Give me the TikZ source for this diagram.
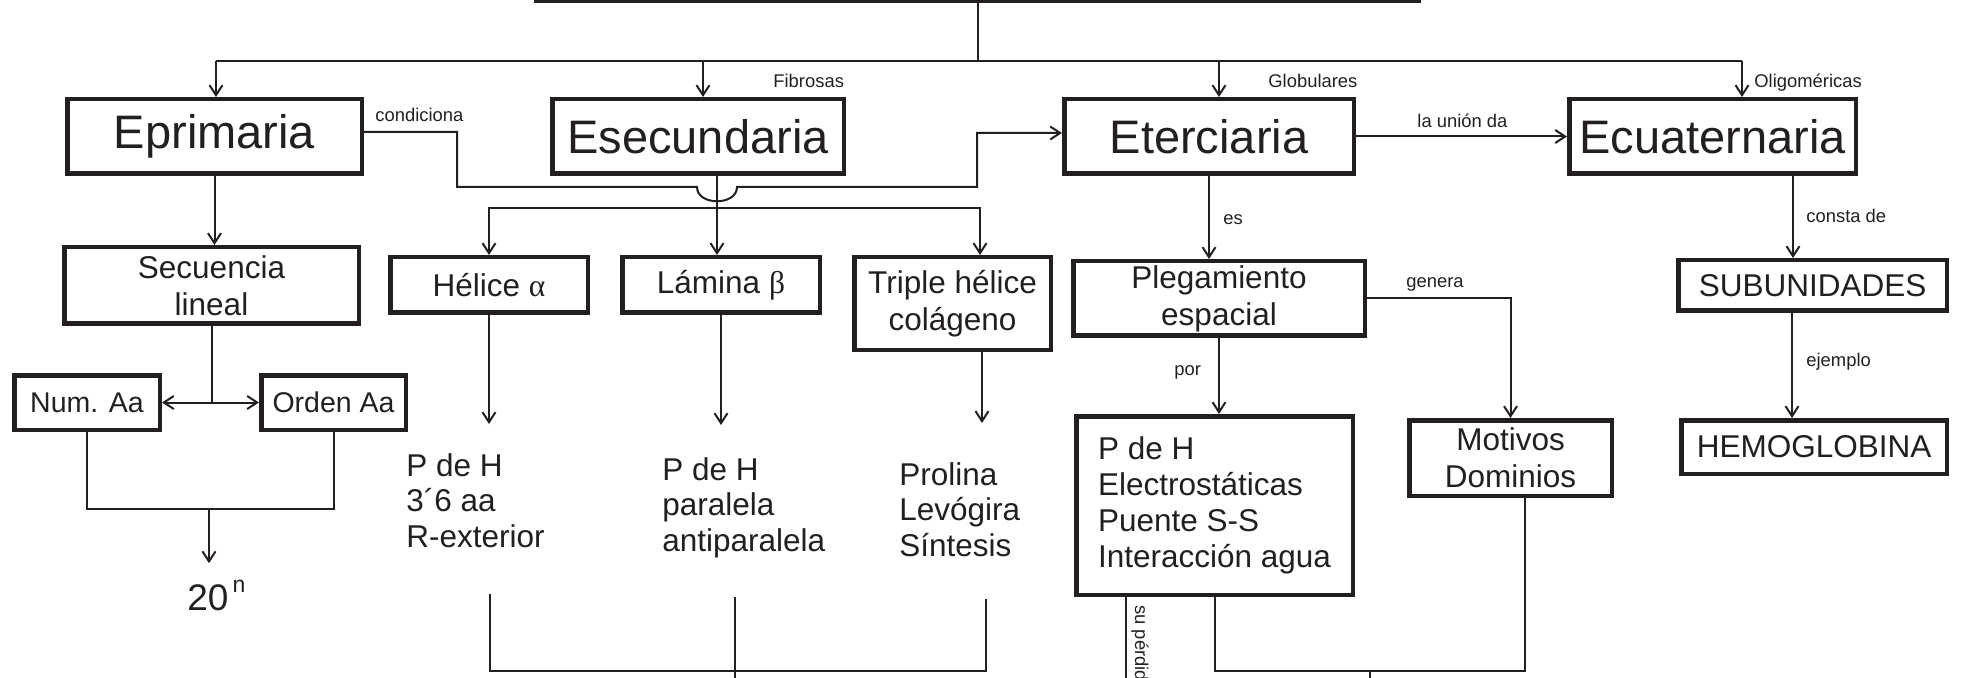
\documentclass[tikz,border=0pt]{standalone}
\usepackage{fontspec}
\setmainfont{Liberation Sans}
\newfontfamily\grk{Liberation Serif}
\usetikzlibrary{arrows.meta}
\definecolor{ink}{RGB}{35,31,32}
\begin{document}
\begin{tikzpicture}[x=0.5pt,y=-0.5pt,
  text=ink,
  box/.style={draw=ink,line width=2.25pt,inner sep=0pt,align=center},
  lvA/.style={box,minimum height=37.25pt,font=\fontsize{23.5}{28}\selectfont},
  lvB/.style={box,font=\fontsize{15.75}{18.5}\selectfont},
  lvC/.style={box,font=\fontsize{14.25}{17}\selectfont},
  freetxt/.style={inner sep=0pt,align=left,anchor=north west,font=\fontsize{15.75}{17.75}\selectfont},
  lbl/.style={inner sep=0pt,anchor=base west,font=\fontsize{9.2}{11}\selectfont},
  conn/.style={draw=ink,line width=1pt},
  arr/.style={conn,-{Straight Barb[length=5pt,width=6.5pt]}}]
\useasboundingbox (0,0) rectangle (1962,678);
\clip (0,0) rectangle (1962,678);

% boxes
\node[box,minimum width=441.25pt,minimum height=60.75pt] (top) at (977.5,-60) {};
\node[lvA,minimum width=147.25pt] (eprim) at (214.5,136.5) {Eprimaria};
\node[lvA,minimum width=145.75pt] (esec) at (698,136.5) {Esecundaria};
\node[lvA,minimum width=144.75pt] (eterc) at (1209,136.5) {Eterciaria};
\node[lvA,minimum width=143.25pt] (ecuat) at (1712.5,136.5) {Ecuaternaria};

\node[lvB,minimum width=147.25pt,minimum height=38.25pt] (sec) at (211.5,285.5) {Secuencia\\lineal};
\node[lvB,minimum width=98.75pt,minimum height=27.75pt] (hel) at (489,285) {Hélice {\grk α}};
\node[lvB,minimum width=98.75pt,minimum height=27.75pt] (lam) at (721,285) {Lámina {\grk β}};
\node[lvB,minimum width=98.25pt,minimum height=46.25pt] (tri) at (952.5,303.5) {Triple hélice\\colágeno};
\node[lvB,minimum width=145.75pt,minimum height=37.25pt] (pleg) at (1219,298.5) {Plegamiento\\espacial};
\node[lvB,minimum width=134.25pt,minimum height=25.25pt] (sub) at (1812.5,285.5) {SUBUNIDADES};
\node[lvB,minimum width=132.75pt,minimum height=26.75pt] (hemo) at (1814,447) {HEMOGLOBINA};
\node[lvC,minimum width=72.75pt,minimum height=27.25pt] (num) at (87,402.5) {Num. Aa};
\node[lvC,minimum width=72.25pt,minimum height=27.25pt] (orden) at (333.5,402.5) {Orden Aa};
\node[lvB,align=left,minimum width=138.25pt,minimum height=89.25pt,font=\fontsize{15.75}{18}\selectfont] (fuerzas) at (1214.5,505.5) {P de H\\Electrostáticas\\Puente S-S\\Interacción agua};
\node[lvB,minimum width=101.25pt,minimum height=37.75pt] (mot) at (1510.5,458) {Motivos\\Dominios};

% free texts
\node[freetxt] (helt) at (406,453) {P de H\\3´6 aa\\R-exterior};
\node[freetxt] (lamt) at (662,457) {P de H\\paralela\\antiparalela};
\node[freetxt] (trit) at (899,462) {Prolina\\Levógira\\Síntesis};
\node[inner sep=0pt,anchor=base west,font=\fontsize{18.5}{22}\selectfont] (pow) at (187,610) {20\kern2pt\raisebox{9pt}{\fontsize{11.5}{13}\selectfont n}};

% labels
\node[lbl] (lcond) at (375,121.5) {condiciona};
\node[lbl] (lfib) at (773,88) {Fibrosas};
\node[lbl] (lglob) at (1268,88) {Globulares};
\node[lbl] (loli) at (1754,88) {Oligoméricas};
\node[lbl] (luni) at (1417,128) {la unión da};
\node[lbl] (les) at (1223,225) {es};
\node[lbl] (lcons) at (1806,223) {consta de};
\node[lbl] (lpor) at (1174,375) {por};
\node[lbl] (lgen) at (1406,288) {genera};
\node[lbl] (lej) at (1806,366) {ejemplo};
\node[lbl,rotate=-90] (lperd) at (1135,605) {su pérdida};

% top bus
\coordinate (busC) at (977,61);
\coordinate (busL) at (216,61);
\coordinate (busR) at (1742,61);
\coordinate (b2) at (703,61);
\coordinate (b3) at (1219,61);
\draw[conn] (top.south) -- (top.south |- busC);
\draw[conn] (busL) -- (busR);
\draw[arr] (busL) -- (busL |- eprim.north);
\draw[arr] (b2) -- (b2 |- esec.north);
\draw[arr] (b3) -- (b3 |- eterc.north);
\draw[arr] (busR) -- (busR |- ecuat.north);

% condiciona
\draw[arr] ([yshift=2.25pt]eprim.east) -| (457,187) -- (697,187)
  .. controls (697,206) and (737,206) .. (737,187) -- (977,187) |- ([yshift=1.75pt]eterc.west);
% la union da
\draw[arr] (eterc.east) -- (ecuat.west);

% esecundaria
\coordinate (j2) at (717,208);
\coordinate (j2r) at (980,208);
\draw[conn] (esec.south -| j2) -- (j2);
\draw[arr] (j2) -| (hel.north);
\draw[arr] (j2) -- (j2 |- lam.north);
\draw[arr] (j2) -- (j2r) -- (j2r |- tri.north);

% eterciaria
\draw[arr] (eterc.south) -- (eterc.south |- pleg.north);
% ecuaternaria
\coordinate (xq) at (1793,0);
\coordinate (xh) at (1792,0);
\draw[arr] (ecuat.south -| xq) -- (sub.north -| xq);
\draw[arr] (sub.south -| xh) -- (hemo.north -| xh);

% eprimaria
\draw[arr] (eprim.south) -- (eprim.south |- sec.north);
\coordinate (j1) at (sec.south |- num.east);
\draw[conn] (sec.south) -- (j1);
\draw[arr] (j1) -- (num.east);
\draw[arr] (j1) -- (orden.west);
\coordinate (j3) at (209,509);
\draw[conn] (num.south) |- (j3) -| (orden.south);
\draw[arr,shorten >=8pt] (j3) -- (j3 |- pow.north);

% secondary details
\draw[arr,shorten >=14.5pt] (hel.south) -- (hel.south |- helt.north);
\draw[arr,shorten >=16pt] (lam.south) -- (lam.south |- lamt.north);
\coordinate (xt) at (982,0);
\draw[arr,shorten >=19.5pt] (tri.south -| xt) -- (trit.north -| xt);

% plegamiento
\draw[arr] (pleg.south) -- (pleg.south |- fuerzas.north);
\draw[arr] (pleg.east) -| (mot.north);

% bottom brackets
\coordinate (bl1) at (490,594);
\coordinate (bl2) at (986,599);
\coordinate (bjL) at (735,671);
\coordinate (bjLt) at (735,597);
\draw[conn] (bl1) |- (bjL) -| (bl2);
\draw[conn] (bjLt) -- ++(0,100);

\coordinate (xp) at (1126,0);
\draw[conn] (fuerzas.south -| xp) -- ++(0,100);
\coordinate (bjR) at (1370,671);
\coordinate (xm) at (1525,0);
\draw[conn] (fuerzas.south) |- (bjR) -| (mot.south -| xm);
\draw[conn] (bjR) -- ++(0,30);
\end{tikzpicture}
\end{document}
